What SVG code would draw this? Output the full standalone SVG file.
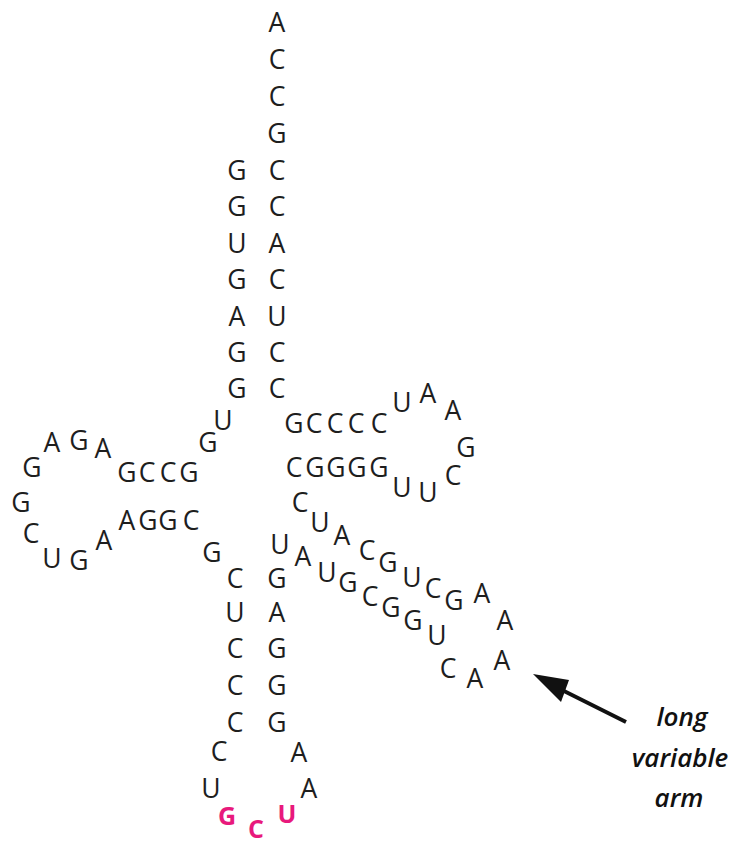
<svg xmlns="http://www.w3.org/2000/svg" width="746" height="844" viewBox="0 0 746 844">
<style>
text{font-family:"Open Sans","Liberation Sans",sans-serif;font-size:26.5px;fill:#1e1e1e;text-anchor:middle}
.pk{fill:#e8197c;font-weight:bold;font-size:25px}
.lbl{font-style:italic;font-weight:600;font-size:26px;fill:#111}
</style>
<rect width="746" height="844" fill="#fff"/>
<g id="acceptor-stem">
<text x="277" y="32">A</text><text x="277" y="69">C</text><text x="277" y="106">C</text><text x="277" y="143">G</text>
<text x="277" y="180">C</text><text x="277" y="216">C</text><text x="277" y="253">A</text><text x="277" y="289">C</text>
<text x="277" y="326">U</text><text x="277" y="362">C</text><text x="277" y="398">C</text>
<text x="237" y="180">G</text><text x="237" y="216">G</text><text x="237" y="253">U</text><text x="237" y="289">G</text>
<text x="237" y="326">A</text><text x="237" y="362">G</text><text x="237" y="398">G</text>
<text x="223" y="430">U</text><text x="208" y="452">G</text>
</g>
<g id="d-arm">
<text x="127" y="482">G</text><text x="147" y="482">C</text><text x="168" y="482">C</text><text x="189" y="482">G</text>
<text x="103" y="458">A</text><text x="79" y="450">G</text><text x="52" y="452">A</text><text x="32" y="477">G</text>
<text x="21" y="512">G</text><text x="31" y="543">C</text><text x="52" y="568">U</text><text x="79" y="570">G</text>
<text x="104" y="550">A</text>
<text x="127" y="530">A</text><text x="148" y="530">G</text><text x="168" y="530">G</text><text x="191" y="530">C</text>
</g>
<g id="anticodon-arm">
<text x="212" y="562">G</text>
<text x="235" y="588">C</text><text x="235" y="622">U</text><text x="235" y="658">C</text><text x="235" y="695">C</text><text x="235" y="732">C</text>
<text x="277" y="588">G</text><text x="277" y="622">A</text><text x="277" y="658">G</text><text x="277" y="695">G</text><text x="277" y="732">G</text>
<text x="219" y="761">C</text><text x="211" y="798">U</text>
<text x="299" y="762">A</text><text x="309" y="798">A</text>
<text class="pk" x="227" y="825">G</text><text class="pk" x="256" y="838">C</text><text class="pk" x="287" y="823">U</text>
</g>
<g id="t-arm">
<text x="294" y="433">G</text><text x="314" y="433">C</text><text x="335" y="433">C</text><text x="356" y="433">C</text><text x="379" y="433">C</text>
<text x="402" y="412">U</text><text x="428" y="403">A</text><text x="453" y="420">A</text><text x="466" y="457">G</text>
<text x="453" y="485">C</text><text x="428" y="502">U</text><text x="402" y="497">U</text>
<text x="294" y="477">C</text><text x="315" y="477">G</text><text x="336" y="477">G</text><text x="357" y="477">G</text><text x="379" y="477">G</text>
</g>
<g id="variable-arm">
<text x="300" y="512">C</text><text x="320" y="532">U</text><text x="342" y="545">A</text><text x="367" y="560">C</text>
<text x="388" y="572">G</text><text x="412" y="587">U</text><text x="433" y="598">C</text><text x="454" y="610">G</text>
<text x="482" y="603">A</text><text x="505" y="630">A</text><text x="502" y="670">A</text><text x="475" y="688">A</text>
<text x="448" y="678">C</text><text x="437" y="645">U</text><text x="413" y="630">G</text><text x="391" y="617">G</text>
<text x="370" y="606">C</text><text x="348" y="592">G</text><text x="327" y="582">U</text><text x="303" y="566">A</text>
<text x="280" y="554">U</text>
</g>
<g id="connectors">
<line x1="626" y1="722" x2="558" y2="688" stroke="#111" stroke-width="4"/>
<polygon points="533,674 569,680 561,702" fill="#111"/>
</g>
<g id="label">
<text class="lbl" x="682" y="726">long</text>
<text class="lbl" x="680" y="767">variable</text>
<text class="lbl" x="679" y="807">arm</text>
</g>
</svg>
